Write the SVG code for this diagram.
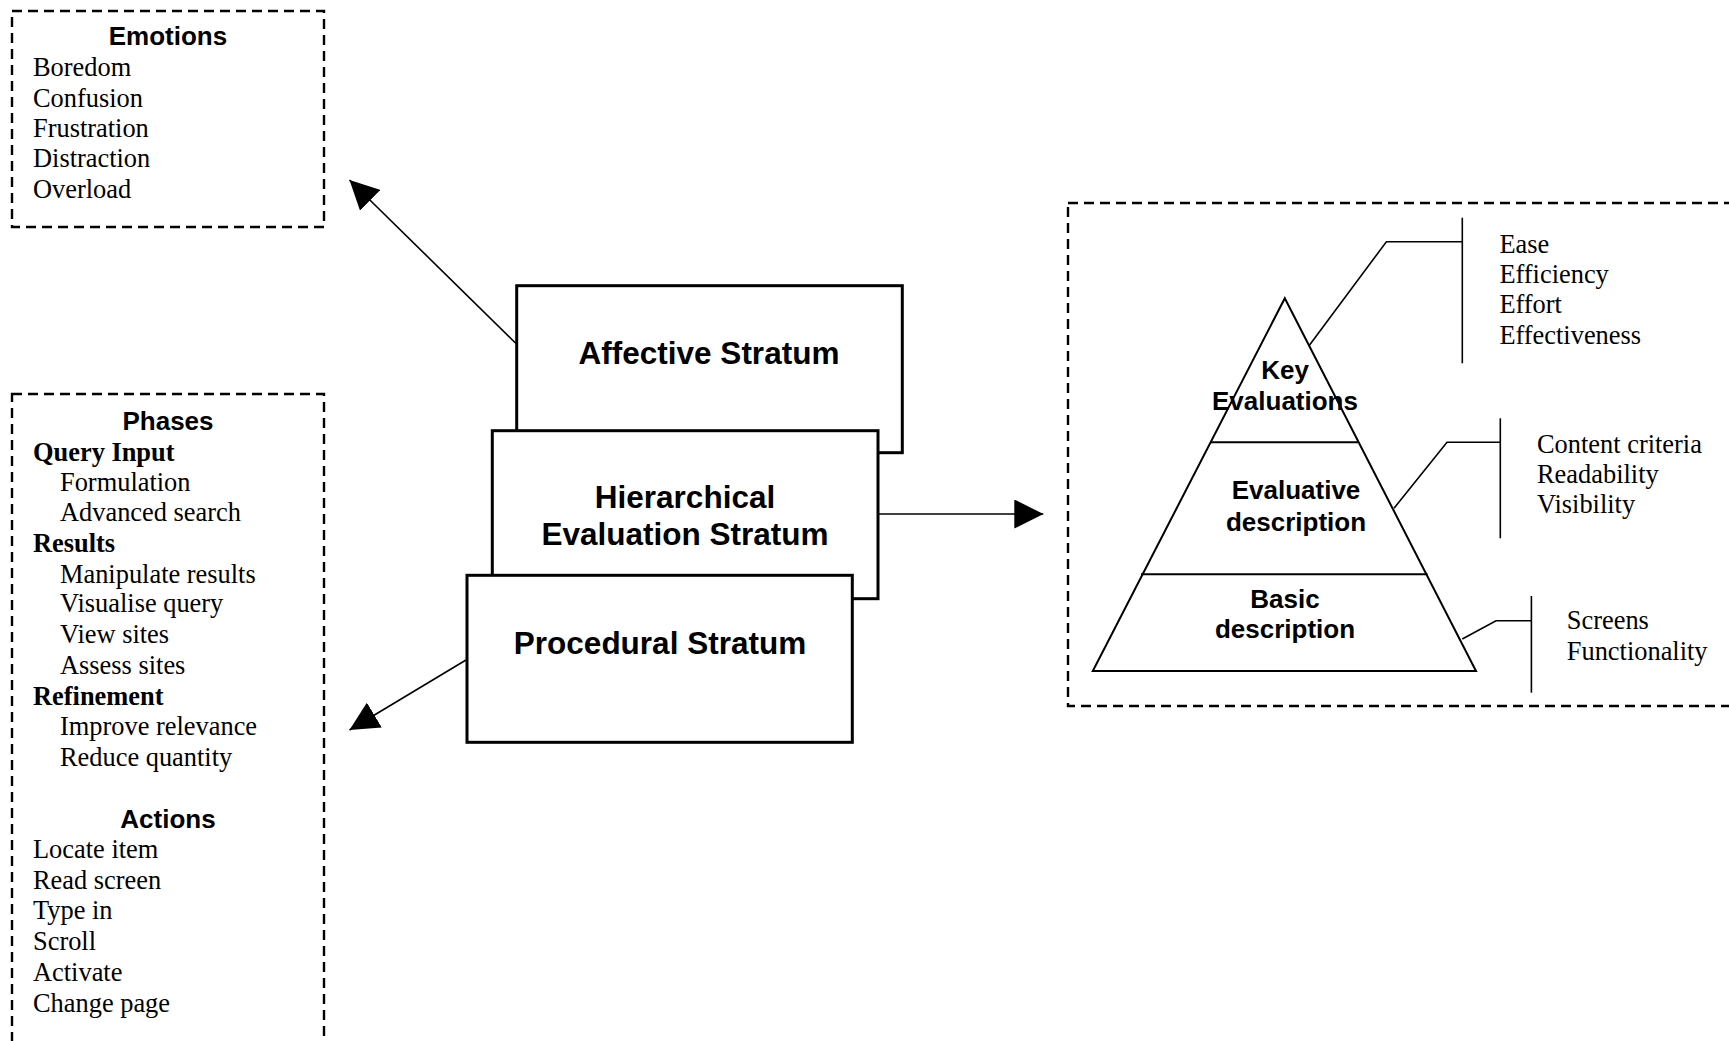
<svg xmlns="http://www.w3.org/2000/svg" width="1729" height="1041" viewBox="0 0 1729 1041">
<style>
.bg{fill:#ffffff}
.dash{fill:none;stroke:#000;stroke-width:2.4;stroke-dasharray:10 6}
.box{fill:#fff;stroke:#000;stroke-width:3}
.ln{fill:none;stroke:#000;stroke-width:1.6}
.pyr{fill:none;stroke:#000;stroke-width:2}
.serif{font-family:"Liberation Serif","Times New Roman",serif;font-size:26.4px;fill:#000}
.serifb{font-family:"Liberation Serif","Times New Roman",serif;font-size:26.4px;font-weight:bold;fill:#000}
.hd{font-family:"Liberation Sans",Arial,sans-serif;font-size:26px;font-weight:bold;fill:#000;text-anchor:middle}
.big{font-family:"Liberation Sans",Arial,sans-serif;font-size:31.5px;font-weight:bold;fill:#000;text-anchor:middle}
</style>
<defs>
<marker id="arr" markerUnits="userSpaceOnUse" markerWidth="29" markerHeight="29" refX="29" refY="14.5" orient="auto">
<path d="M0,0 L29,14.5 L0,29 z" fill="#000"/>
</marker>
</defs>
<rect class="bg" x="0" y="0" width="1729" height="1041"/>

<g id="emotions">
<rect class="dash" x="12" y="11" width="312" height="216"/>
<text class="hd" x="168" y="45">Emotions</text>
<text class="serif" x="33" y="76">Boredom</text>
<text class="serif" x="33" y="106.7">Confusion</text>
<text class="serif" x="33" y="137">Frustration</text>
<text class="serif" x="33" y="167">Distraction</text>
<text class="serif" x="33" y="198">Overload</text>
</g>

<g id="phases">
<rect class="dash" x="12" y="394" width="312" height="700"/>
<text class="hd" x="168" y="430">Phases</text>
<text class="serifb" x="33" y="461">Query Input</text>
<text class="serif" x="60" y="491">Formulation</text>
<text class="serif" x="60" y="521">Advanced search</text>
<text class="serifb" x="33" y="551.7">Results</text>
<text class="serif" x="60" y="582.7">Manipulate results</text>
<text class="serif" x="60" y="612.3">Visualise query</text>
<text class="serif" x="60" y="643.3">View sites</text>
<text class="serif" x="60" y="674.3">Assess sites</text>
<text class="serifb" x="33" y="705">Refinement</text>
<text class="serif" x="60" y="735">Improve relevance</text>
<text class="serif" x="60" y="766">Reduce quantity</text>
<text class="hd" x="168" y="828.3">Actions</text>
<text class="serif" x="33" y="858.3">Locate item</text>
<text class="serif" x="33" y="889">Read screen</text>
<text class="serif" x="33" y="919.3">Type in</text>
<text class="serif" x="33" y="950">Scroll</text>
<text class="serif" x="33" y="980.7">Activate</text>
<text class="serif" x="33" y="1011.7">Change page</text>
</g>

<g id="connectors">
<line class="ln" x1="516" y1="343.5" x2="349.5" y2="180" marker-end="url(#arr)"/>
<line class="ln" x1="466" y1="660" x2="349.5" y2="730" marker-end="url(#arr)"/>
<line class="ln" x1="878" y1="514" x2="1043.3" y2="514" marker-end="url(#arr)"/>
</g>

<g id="affective">
<rect class="box" x="516.7" y="285.7" width="385.6" height="167"/>
<text class="big" x="709" y="364.3">Affective Stratum</text>
</g>
<g id="hierarchical">
<rect class="box" x="492.3" y="430.7" width="385.7" height="168"/>
<text class="big" x="685" y="507.7">Hierarchical</text>
<text class="big" x="685" y="545">Evaluation Stratum</text>
</g>
<g id="procedural">
<rect class="box" x="467" y="575.3" width="385.3" height="167"/>
<text class="big" x="660" y="654">Procedural Stratum</text>
</g>

<g id="evaluation-hierarchy">
<rect class="dash" x="1068" y="203" width="720" height="503"/>
<polygon class="pyr" points="1284.8,298.3 1092.8,671 1476,671"/>
<line class="pyr" x1="1211" y1="442.3" x2="1358" y2="442.3"/>
<line class="pyr" x1="1141" y1="574.3" x2="1427.5" y2="574.3"/>
<text class="hd" x="1285" y="379.3">Key</text>
<text class="hd" x="1285" y="410">Evaluations</text>
<text class="hd" x="1296" y="498.8">Evaluative</text>
<text class="hd" x="1296" y="531.3">description</text>
<text class="hd" x="1285" y="607.7">Basic</text>
<text class="hd" x="1285" y="638.3">description</text>
<polyline class="ln" points="1309.6,345 1386.4,241.7 1462.3,241.7"/>
<line class="ln" x1="1462.3" y1="217.7" x2="1462.3" y2="363.3"/>
<polyline class="ln" points="1394,508.3 1447,442.3 1500.3,442.3"/>
<line class="ln" x1="1500.3" y1="418.3" x2="1500.3" y2="538.3"/>
<polyline class="ln" points="1462.3,639 1496,620.7 1531.4,620.7"/>
<line class="ln" x1="1531.4" y1="596" x2="1531.4" y2="692.7"/>
<text class="serif" x="1499.4" y="252.7">Ease</text>
<text class="serif" x="1499.4" y="283.3">Efficiency</text>
<text class="serif" x="1499.4" y="313.3">Effort</text>
<text class="serif" x="1499.4" y="344">Effectiveness</text>
<text class="serif" x="1537" y="453.3">Content criteria</text>
<text class="serif" x="1537" y="483.3">Readability</text>
<text class="serif" x="1537" y="513.3">Visibility</text>
<text class="serif" x="1566.8" y="629.3">Screens</text>
<text class="serif" x="1566.8" y="660">Functionality</text>
</g>
</svg>
